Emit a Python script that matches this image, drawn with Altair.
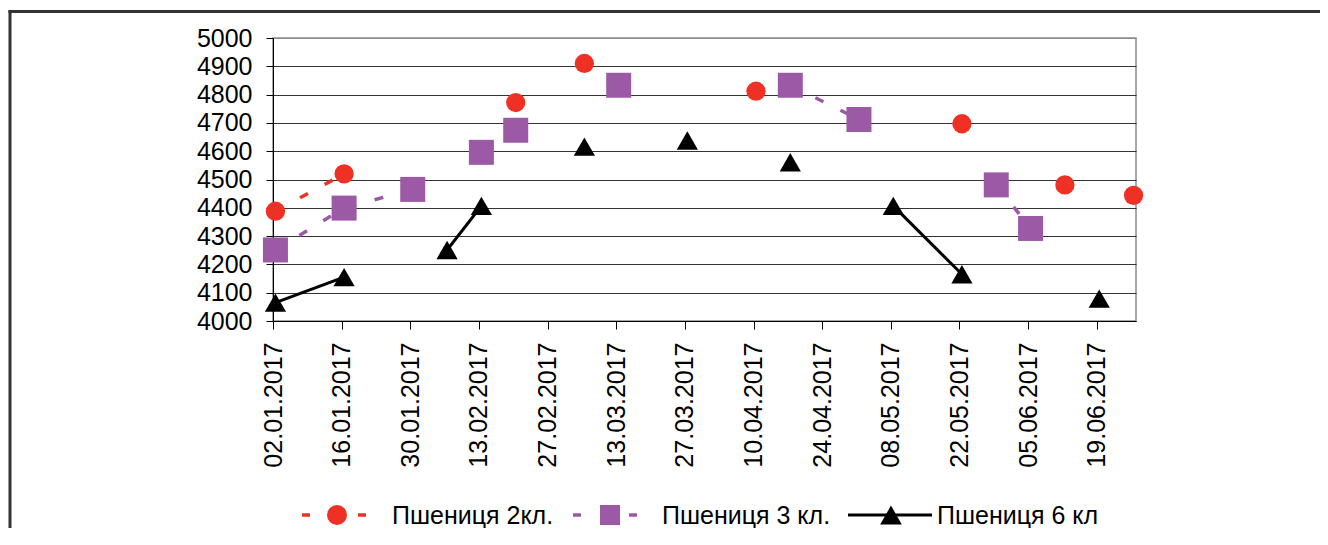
import json
import datetime as dt
import altair as alt
import pandas as pd

# ---------------- data ----------------
series_names = ["Пшениця 2кл.", "Пшениця 3 кл.", "Пшениця 6 кл"]

# None marks a gap: the line is broken there
red_dates = ["02.01.2017", "16.01.2017", None, "20.02.2017", None, "06.03.2017", None,
             "10.04.2017", None, "22.05.2017", None, "12.06.2017", None, "26.06.2017"]
red_values = [4388, 4520, None, 4772, None, 4910, None,
              4812, None, 4697, None, 4481, None, 4444]

purple_dates = ["02.01.2017", "16.01.2017", "30.01.2017", None, "13.02.2017", None,
                "20.02.2017", None, "13.03.2017", None, "17.04.2017", "01.05.2017", None,
                "29.05.2017", "05.06.2017"]
purple_values = [4251, 4399, 4465, None, 4596, None,
                 4674, None, 4833, None, 4833, 4712, None,
                 4481, 4327]

black_dates = ["02.01.2017", "16.01.2017", None, "06.02.2017", "13.02.2017", None,
               "06.03.2017", None, "27.03.2017", None, "17.04.2017", None,
               "08.05.2017", "22.05.2017", None, "19.06.2017"]
black_values = [4065, 4155, None, 4251, 4407, None,
                4616, None, 4638, None, 4561, None,
                4407, 4165, None, 4079]

x_tick_labels = ["02.01.2017", "16.01.2017", "30.01.2017", "13.02.2017", "27.02.2017",
                 "13.03.2017", "27.03.2017", "10.04.2017", "24.04.2017", "08.05.2017",
                 "22.05.2017", "05.06.2017", "19.06.2017"]
y_ticks = list(range(4000, 5001, 100))

# ---------------- helpers ----------------
START = dt.date(2017, 1, 2)
END_DAYS = 176  # axis runs to 27.06.2017


def day(s):
    return (dt.datetime.strptime(s, "%d.%m.%Y").date() - START).days


def build(dates, values, name):
    rows, seg = [], 0
    for d, v in zip(dates, values):
        if d is None or v is None:
            seg += 1
            continue
        # Excel date axis: a point sits in the middle of its day
        rows.append({"day": day(d) + 0.5, "value": v, "seg": seg, "series": name})
    return pd.DataFrame(rows)


FONT = "Liberation Sans"
tick_days = [day(s) for s in x_tick_labels]
label_expr = json.dumps(x_tick_labels) + "[round(datum.value / 14)]"

x_enc = alt.X(
    "day:Q",
    scale=alt.Scale(domain=[0, END_DAYS], nice=False, zero=False),
    axis=alt.Axis(
        values=tick_days, labelExpr=label_expr, title=None, grid=False,
        labelAngle=270, labelFlush=False, labelOverlap=False,
        labelFontSize=25, labelFont=FONT, labelColor="#000000", labelPadding=13,
        tickSize=8, tickColor="#000000", domainColor="#000000", domainWidth=1,
    ),
)
y_enc = alt.Y(
    "value:Q",
    scale=alt.Scale(domain=[4000, 5000], nice=False, zero=False),
    axis=alt.Axis(
        values=y_ticks, format="d", title=None, grid=True,
        gridColor={"condition": {"test": "datum.value === 5000", "value": "#8c8c8c"},
                   "value": "#333333"},
        gridWidth=1,
        labelFontSize=25, labelFont=FONT, labelColor="#000000", labelPadding=14,
        tickSize=7, tickColor="#000000", domainColor="#000000", domainWidth=1,
    ),
)

styles = [
    dict(dates=red_dates, values=red_values, color="#EE3124", dash=[9, 19], width=3.5,
         shape="circle", size=372, lsize=400),
    dict(dates=purple_dates, values=purple_values, color="#9B59A6", dash=[9, 19], width=3.5,
         shape="square", size=625, lsize=400),
    dict(dates=black_dates, values=black_values, color="#000000", dash=None, width=3,
         shape="triangle-up", size=450, lsize=470),
]

line_layers, point_layers = [], []
for name, st in zip(series_names, styles):
    df = build(st["dates"], st["values"], name)
    lkw = dict(color=st["color"], strokeWidth=st["width"])
    if st["dash"]:
        lkw["strokeDash"] = st["dash"]
    line_layers.append(
        alt.Chart(df).mark_line(**lkw).encode(x=x_enc, y=y_enc, detail="seg:N")
    )
    point_layers.append(
        alt.Chart(df).mark_point(shape=st["shape"], size=st["size"], filled=True,
                                 opacity=1, color=st["color"], strokeWidth=0)
        .encode(x=x_enc, y=y_enc)
    )

# ---------------- hand-drawn legend (below the axis labels) ----------------
one = pd.DataFrame({"k": [0]})
LEG_Y = 477
legend_layout = [  # line start, line end, marker centre, text start (view px)
    (29, 95, 64, 119),
    (300, 365, 337, 389),
    (575, 659, 618, 664),
]
legend_layers = []
for name, st, (x0, x1, xm, xt) in zip(series_names, styles, legend_layout):
    rkw = dict(color=st["color"], strokeWidth=st["width"])
    if st["dash"]:
        rkw["strokeDash"] = [8, 20]
    legend_layers.append(
        alt.Chart(one).mark_rule(**rkw).encode(
            x=alt.value(x0), x2=alt.value(x1), y=alt.value(LEG_Y))
    )
    legend_layers.append(
        alt.Chart(one).mark_point(shape=st["shape"], size=st["lsize"], filled=True,
                                  opacity=1, color=st["color"], strokeWidth=0)
        .encode(x=alt.value(xm), y=alt.value(LEG_Y))
    )
    legend_layers.append(
        alt.Chart(one).mark_text(align="left", baseline="middle", fontSize=25,
                                 font=FONT, color="#000000")
        .encode(x=alt.value(xt), y=alt.value(LEG_Y + 1), text=alt.value(name))
    )

# outer frame of the figure: only its top and left edges fall inside the picture
frame_top = alt.Chart(one).mark_rule(color="#333333", strokeWidth=3).encode(
    x=alt.value(-264.5), x2=alt.value(1100), y=alt.value(-26.5)
)
frame_left = alt.Chart(one).mark_rule(color="#333333", strokeWidth=3).encode(
    x=alt.value(-263), y=alt.value(-28), y2=alt.value(700)
)

chart = (
    alt.layer(frame_top, frame_left, *line_layers, *point_layers, *legend_layers)
    .properties(
        width=863, height=283, autosize="none",
        padding={"left": 265, "top": 30, "right": 184, "bottom": 207},
        background="#ffffff",
    )
    .configure_view(stroke="#8c8c8c", strokeWidth=1.5)
)

chart.save("out.html", embed_options={"renderer": "svg", "actions": False})
